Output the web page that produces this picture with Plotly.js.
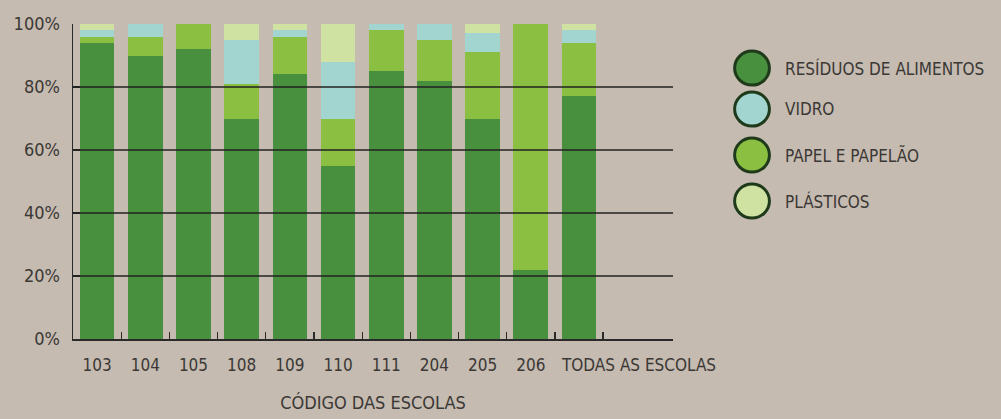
<!DOCTYPE html>
<html>
<head>
<meta charset="utf-8">
<script src="https://cdn.plot.ly/plotly-3.0.1.min.js"></script>
<style>
html,body{margin:0;padding:0;background:#c5bbb1;}
#chart{width:1001px;height:419px;}
</style>
</head>
<body>
<div id="chart"></div>
<script>
const categories = ['103','104','105','108','109','110','111','204','205','206','TODAS AS ESCOLAS'];
const residuos  = [94, 90, 92, 70, 84, 55, 85, 82, 70, 22, 77];
const papel     = [ 2,  6,  8, 11, 12, 15, 13, 13, 21, 78, 17];
const vidro     = [ 2,  4,  0, 14,  2, 18,  2,  5,  6,  0,  4];
const plasticos = [ 2,  0,  0,  5,  2, 12,  0,  0,  3,  0,  2];
const yTicks = [0, 20, 40, 60, 80, 100];
const legendNames = ['RESÍDUOS DE ALIMENTOS', 'VIDRO', 'PAPEL E PAPELÃO', 'PLÁSTICOS'];

const C = {res:'#488f3e', vid:'#a2d5d0', pap:'#8bbf42', pla:'#d0e2a2'};
const FONT = '"DejaVu Sans Condensed", "Liberation Sans Narrow", sans-serif';
const TXT = '#3b3835';

const traces = [
  {name:legendNames[0], y:residuos, color:C.res},
  {name:legendNames[2], y:papel, color:C.pap},
  {name:legendNames[1], y:vidro, color:C.vid},
  {name:legendNames[3], y:plasticos, color:C.pla}
].map(s => ({type:'bar', x:categories, y:s.y, name:s.name, marker:{color:s.color, line:{width:0}}, showlegend:false, hoverinfo:'x+y+name'}));

const shapes = [];
[20,40,60,80].forEach(v => shapes.push({type:'line', xref:'paper', yref:'y', x0:0, x1:1, y0:v, y1:v, layer:'above', line:{color:'#222', width:1.5}}));

const legendColors = [C.res, C.vid, C.pap, C.pla];
const legendY = [0.860, 0.730, 0.584, 0.438];
const annotations = [];
legendNames.forEach((n,i) => {
  shapes.push({type:'circle', xref:'paper', yref:'paper', x0:1.1317-0.029, x1:1.1317+0.029, y0:legendY[i]-0.054, y1:legendY[i]+0.054, fillcolor:legendColors[i], line:{color:'#1e3a1a', width:3}});
  annotations.push({xref:'paper', yref:'paper', x:1.183, y:legendY[i], xanchor:'left', yanchor:'middle', text:n, showarrow:false, font:{family:FONT, size:17, color:TXT}});
});
// last category label is left-aligned at its bar, as in the reference
const lastCat = categories[categories.length-1];
annotations.push({xref:'x', yref:'paper', x:lastCat, y:0, xanchor:'left', yanchor:'middle', xshift:-20, yshift:-26, text:lastCat, showarrow:false, font:{family:FONT, size:17, color:TXT}});

const layout = {
  width:1001, height:419,
  margin:{l:73, r:328, t:24, b:80},
  paper_bgcolor:'#c5bbb1', plot_bgcolor:'rgba(0,0,0,0)',
  barmode:'stack', bargap:0.28,
  showlegend:false,
  font:{family:FONT, color:TXT},
  xaxis:{
    type:'category', range:[-0.5, 11.95],
    tickvals:categories, ticktext:categories.map((c,i)=> i===categories.length-1 ? ' ' : c),
    showline:true, linecolor:'#2a2a2a', linewidth:1.5,
    ticks:'inside', ticklen:7, tickcolor:'#2a2a2a', tickwidth:1.3, tickson:'boundaries',
    showgrid:false, zeroline:false, tickangle:0,
    tickfont:{family:FONT, size:17, color:TXT},
    ticklabelstandoff:10,
    title:{text:'CÓDIGO DAS ESCOLAS', font:{family:FONT, size:18, color:TXT}, standoff:22}
  },
  yaxis:{
    range:[0,100], tickvals:yTicks, ticktext:yTicks.map(v=>v+'%'),
    showline:true, linecolor:'#2a2a2a', linewidth:1.5,
    ticks:'inside', ticklen:7, tickcolor:'#2a2a2a', tickwidth:1.3,
    showgrid:false, zeroline:false,
    tickfont:{family:FONT, size:18, color:TXT},
    ticklabelstandoff:8
  },
  shapes:shapes,
  annotations:annotations
};

Plotly.newPlot('chart', traces, layout, {displayModeBar:false, staticPlot:true});
</script>
</body>
</html>
